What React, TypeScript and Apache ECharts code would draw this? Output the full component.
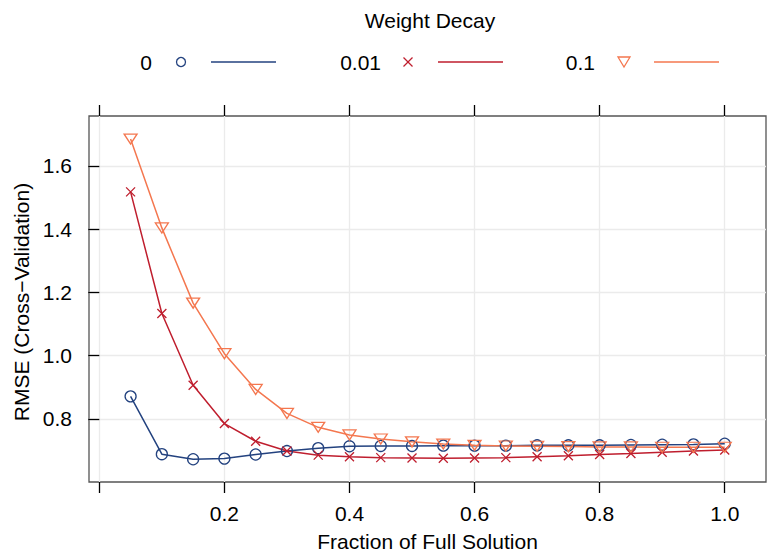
import React, { useEffect, useRef } from "react";
import * as echarts from "echarts";

const fractions = [0.05, 0.1, 0.15, 0.2, 0.25, 0.3, 0.35, 0.4, 0.45, 0.5, 0.55, 0.6, 0.65, 0.7, 0.75, 0.8, 0.85, 0.9, 0.95, 1.0];
const rmseDecay0 = [0.871, 0.688, 0.672, 0.674, 0.687, 0.698, 0.707, 0.713, 0.714, 0.714, 0.715, 0.715, 0.715, 0.716, 0.716, 0.716, 0.717, 0.718, 0.719, 0.721];
const rmseDecay001 = [1.518, 1.133, 0.906, 0.785, 0.729, 0.698, 0.685, 0.680, 0.677, 0.676, 0.675, 0.676, 0.677, 0.680, 0.683, 0.687, 0.690, 0.694, 0.698, 0.701];
const rmseDecay01 = [1.685, 1.404, 1.166, 1.006, 0.893, 0.817, 0.773, 0.749, 0.736, 0.727, 0.720, 0.716, 0.714, 0.713, 0.712, 0.711, 0.711, 0.710, 0.710, 0.710];
const decayLabels = ["0", "0.01", "0.1"];
const xTickValues = [0, 0.2, 0.4, 0.6, 0.8, 1.0];
const xLabelValues = [0.2, 0.4, 0.6, 0.8, 1.0];
const yTickValues = [0.8, 1.0, 1.2, 1.4, 1.6];

const COLORS = ["#23427f", "#bf1e2e", "#f4774f"];
const FONT = "Liberation Sans";
const FS = 21;

const CROSS = "path://M0,0L10,10M0,10L10,0";
const TRI_DOWN = "path://M0,0L12,0L6,10Z";

export default function App() {
  const ref = useRef<HTMLDivElement>(null);
  useEffect(() => {
    if (!ref.current) return;
    const chart = echarts.init(ref.current, undefined, { renderer: "svg" });
    const seriesData = [rmseDecay0, rmseDecay001, rmseDecay01];
    const symbols = ["circle", CROSS, TRI_DOWN];
    const symbolSizes: any[] = [11, 9, [13, 10]];

    const legendItems: any[] = [];
    const textRight = [152, 381, 595];
    const markerX = [181, 408, 624];
    const lineX = [[211, 276], [438, 503], [654, 719]];
    const rowY = 62;
    decayLabels.forEach((lab, i) => {
      legendItems.push({
        type: "text",
        x: textRight[i],
        y: rowY,
        style: { text: lab, font: `${FS}px '${FONT}'`, fill: "#000", align: "right", verticalAlign: "middle" },
      });
      legendItems.push({
        type: "line",
        shape: { x1: lineX[i][0], y1: rowY, x2: lineX[i][1], y2: rowY },
        style: { stroke: COLORS[i], lineWidth: 1.5 },
      });
    });
    legendItems.push({
      type: "circle",
      shape: { cx: markerX[0], cy: rowY, r: 4.5 },
      style: { fill: "none", stroke: COLORS[0], lineWidth: 1.3 },
    });
    legendItems.push({
      type: "line",
      shape: { x1: markerX[1] - 4.5, y1: rowY - 4.5, x2: markerX[1] + 4.5, y2: rowY + 4.5 },
      style: { stroke: COLORS[1], lineWidth: 1.3 },
    });
    legendItems.push({
      type: "line",
      shape: { x1: markerX[1] - 4.5, y1: rowY + 4.5, x2: markerX[1] + 4.5, y2: rowY - 4.5 },
      style: { stroke: COLORS[1], lineWidth: 1.3 },
    });
    legendItems.push({
      type: "polygon",
      shape: { points: [[markerX[2] - 6, rowY - 5], [markerX[2] + 6, rowY - 5], [markerX[2], rowY + 5]] },
      style: { fill: "none", stroke: COLORS[2], lineWidth: 1.3 },
    });
    legendItems.push({
      type: "text",
      x: 430,
      y: 20,
      style: { text: "Weight Decay", font: `${FS}px '${FONT}'`, fill: "#000", align: "center", verticalAlign: "middle" },
    });
    legendItems.push({
      type: "text",
      x: 21,
      y: 302,
      rotation: Math.PI / 2,
      style: { text: "RMSE (Cross\u2212Validation)", font: `${FS}px '${FONT}'`, fill: "#000", align: "center", verticalAlign: "middle" },
    });

    chart.setOption({
      animation: false,
      backgroundColor: "#fff",
      textStyle: { fontFamily: FONT },
      grid: { left: 89, top: 116, width: 677, height: 373, show: true, borderColor: "#555", borderWidth: 1.3, backgroundColor: "transparent" },
      xAxis: [
        {
          type: "value",
          min: -0.0165,
          max: 1.066,
          position: "bottom",
          name: "Fraction of Full Solution",
          nameLocation: "middle",
          nameGap: 49,
          nameTextStyle: { fontSize: FS, color: "#000", fontFamily: FONT },
          axisLine: { show: false },
          axisTick: { show: true, length: 11, customValues: xTickValues, lineStyle: { color: "#000", width: 1.3 } },
          axisLabel: { customValues: xLabelValues, margin: 21, fontSize: FS, color: "#000", fontFamily: FONT, formatter: (v: number) => v.toFixed(1) },
          splitLine: { show: true, lineStyle: { color: "#ebebeb", width: 1.3 } },
        },
        {
          type: "value",
          min: -0.0165,
          max: 1.066,
          position: "top",
          axisLine: { show: false },
          axisTick: { show: true, length: 11, customValues: xTickValues, lineStyle: { color: "#000", width: 1.3 } },
          axisLabel: { show: false },
          splitLine: { show: false },
        },
      ],
      yAxis: {
        type: "value",
        min: 0.6,
        max: 1.758,
        axisLine: { show: false },
        axisTick: { show: true, length: 11, customValues: yTickValues, lineStyle: { color: "#000", width: 1.3 } },
        axisLabel: { customValues: yTickValues, margin: 17, fontSize: FS, color: "#000", fontFamily: FONT, formatter: (v: number) => v.toFixed(1) },
        splitLine: { show: true, lineStyle: { color: "#ebebeb", width: 1.3 } },
      },
      graphic: legendItems,
      series: seriesData.map((vals, i) => ({
        type: "line",
        name: decayLabels[i],
        xAxisIndex: 0,
        data: fractions.map((f, j) => [f, vals[j]]),
        symbol: symbols[i],
        symbolSize: symbolSizes[i],
        showAllSymbol: true,
        lineStyle: { color: COLORS[i], width: 1.5 },
        itemStyle: { color: "none", borderColor: COLORS[i], borderWidth: 1.3 },
        emphasis: { disabled: true },
      })),
    });
    return () => chart.dispose();
  }, []);
  return <div ref={ref} style={{ position: "absolute", left: 0, top: 0, width: 768, height: 557 }} />;
}
